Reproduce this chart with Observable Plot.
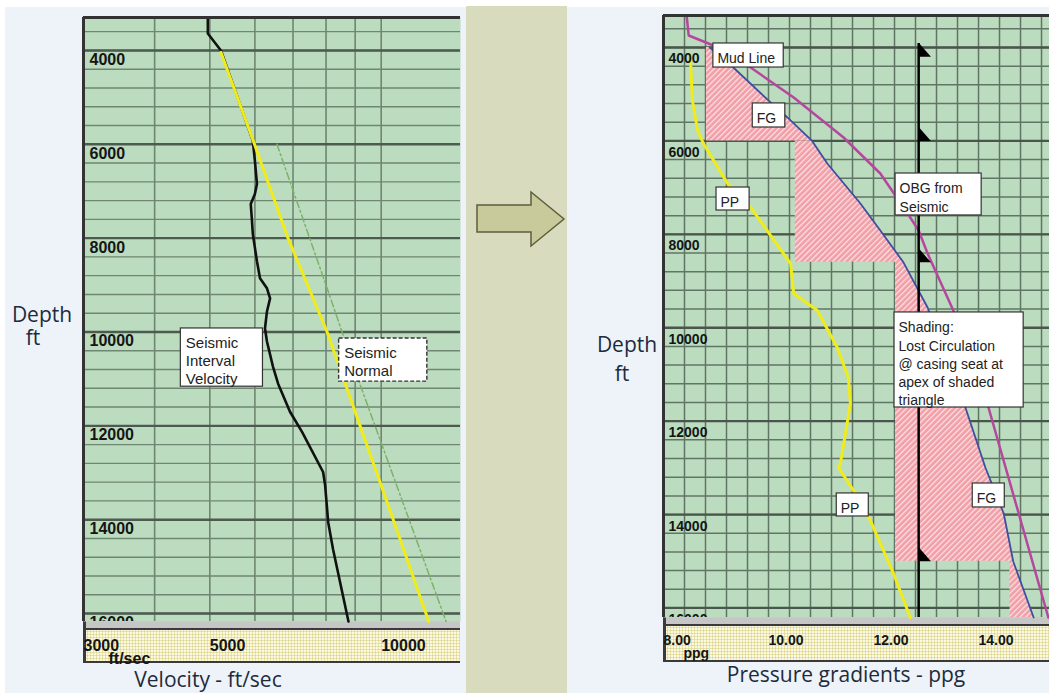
<!DOCTYPE html>
<html>
<head>
<meta charset="utf-8">
<script src="https://cdn.jsdelivr.net/npm/d3@7"></script>
<script src="https://cdn.jsdelivr.net/npm/@observablehq/plot@0.6"></script>
<style>
html, body { margin: 0; padding: 0; background: #ffffff; overflow: hidden; }
#root { position: relative; width: 1049px; height: 693px; font-family: "Liberation Sans", Arial, sans-serif; }
.abs { position: absolute; }
.panel { background: #eef2f9; }
.strip { background: #c5c6c5; border-left: 3px solid #3a3a3a; box-sizing: border-box; }
.band { background-color: #fbf9e3; background-image: radial-gradient(#ddd68e 0.9px, transparent 1.2px); background-size: 3px 3px;
        border-top: 2px solid #3a3a3a; border-bottom: 2px solid #3a3a3a; border-left: 3px solid #3a3a3a; box-sizing: border-box; }
.cap { font-family: "Open Sans", sans-serif; font-size: 21px; color: #1d2b3c; white-space: nowrap; text-align: center; }
</style>
</head>
<body>
<svg width="0" height="0" style="position:absolute">
  <defs>
    <pattern id="hatch" patternUnits="userSpaceOnUse" width="4" height="4" patternTransform="rotate(45)">
      <rect width="4" height="4" fill="#f29ea6"></rect>
      <rect width="1.3" height="4" fill="#fbe2e4"></rect>
    </pattern>
  </defs>
</svg>
<div id="root">
  <div class="abs panel" style="left:5px;top:7px;width:461px;height:686px"></div>
  <div class="abs" style="left:466px;top:6px;width:101px;height:687px;background:#d9dbbe"></div>
  <div class="abs panel" style="left:567px;top:7px;width:482px;height:686px"></div>

  <div class="abs strip" style="left:83px;top:621px;width:377px;height:8px"></div>
  <div class="abs band" style="left:83px;top:628px;width:377px;height:35px"></div>
  <div class="abs strip" style="left:663px;top:617px;width:386px;height:8px"></div>
  <div class="abs band" style="left:663px;top:624px;width:386px;height:38px"></div>

  <svg class="abs" style="left:466px;top:0" width="101" height="693">
    <polygon points="11,205 65,205 65,192 98,219 65,246 65,232 11,232" fill="#c8ca9c" stroke="#5c5e3c" stroke-width="1.5"></polygon>
  </svg>

  <div class="abs cap" style="left:0px;top:303px;width:84px;line-height:23px">Depth<br><span style="position:relative;left:-9px">ft</span></div>
  <div class="abs cap" style="left:108px;top:665px;width:200px;line-height:28px">Velocity - ft/sec</div>
  <div class="abs cap" style="left:577px;top:330px;width:100px;line-height:29px">Depth<br><span style="position:relative;left:-5px">ft</span></div>
  <div class="abs cap" style="left:696px;top:660px;width:300px;line-height:28px">Pressure gradients - ppg</div>

  <div id="leftChart" class="abs" style="left:0;top:0"></div>
  <div id="rightChart" class="abs" style="left:567px;top:0"></div>
</div>
<script>
// ---------- Left chart: velocity vs depth ----------
const velDomain = [3000, 13780];
const depthDomainL = [3298, 16170];
const velTicks = [3000, 5000, 10000];
const velGrid = [4000, 5000, 6000, 7000, 8000, 9000, 10000];
const depthMajor = [4000, 6000, 8000, 10000, 12000, 14000, 16000];
const depthMinor = d3.range(3600, 16200, 400);

// Seismic interval velocity (black)
const intervalDepth = [3298, 3640, 4000, 5925, 6353, 6845, 7059, 7273, 7572, 7914, 8492, 8856, 9070, 9284, 9562, 9925, 10203, 10738, 11102, 11700, 12128, 12984, 13262, 14053, 14631, 16170];
const intervalVel   = [4960, 4960, 5230, 5950, 6000, 6050, 6000, 5900, 5925, 5950, 6050, 6125, 6300, 6380, 6300, 6250, 6300, 6455, 6590, 6915, 7260, 7905, 7970, 8070, 8230, 8760];

// Seismic normal trend (yellow)
const normalDepth = [4040, 6000, 8000, 10000, 12000, 14000, 16170];
const normalVel   = [5230, 5990, 6860, 8035, 9180, 10500, 12120];

// Dashed green trend
const trendDepth = [6000, 9134, 11120, 16170];
const trendVel   = [6560, 8070, 9180, 13000];

const leftNotes = [
  {text: "Seismic\nInterval\nVelocity", x1: 4447, x2: 6199, y1: 9925, y2: 11166, dashed: false},
  {text: "Seismic\nNormal", x1: 8435, x2: 12050, y1: 10139, y2: 11059, dashed: true}
];

// ---------- Right chart: pressure gradients vs depth ----------
const ppgDomain = [8, 15.352];
const depthDomainR = [3315, 16204];
const ppgTicks = [8, 10, 12, 14];
const ppgGrid = d3.range(8.4, 15.35, 0.4);

const ppDepth = [4171, 5135, 5777, 6056, 6912, 7425, 8625, 9267, 9631, 10423, 11065, 11621, 12906, 12992, 13485, 14127, 15261, 16204];
const ppValue = [8.51, 8.55, 8.65, 8.76, 9.22, 9.66, 10.42, 10.48, 10.93, 11.31, 11.52, 11.56, 11.37, 11.33, 11.62, 11.94, 12.38, 12.70];

const fgDepth = [4000, 4429, 5177, 5498, 6000, 6483, 7340, 7918, 8600, 9567, 11708, 12992, 13977, 15000, 16204];
const fgValue = [8.88, 9.33, 10.04, 10.36, 10.83, 11.12, 11.75, 12.13, 12.57, 13.03, 13.75, 14.13, 14.48, 14.66, 15.05];

const obgDepth = [3315, 3743, 3957, 4429, 5071, 5927, 6698, 7554, 7918, 8410, 9631, 11708, 16204];
const obgValue = [8.44, 8.48, 8.95, 9.66, 10.48, 11.43, 12.13, 12.65, 12.86, 13.03, 13.52, 14.19, 15.33];

const shadeTop    = [4000, 6000, 8600, 15000];
const shadeBottom = [6000, 8600, 15000, 16204];
const shadeLeft   = [8.82, 10.51, 12.42, 14.6];

const casingPpg = 12.86;
const casingTop = 3914;
const casingDepths = [4200, 6000, 8600, 15000];

const rightNotes = [
  {text: "Mud Line", x1: 8.95, x2: 10.29, y1: 3914, y2: 4429},
  {text: "FG", x1: 9.70, x2: 10.32, y1: 5198, y2: 5713},
  {text: "PP", x1: 9.01, x2: 9.64, y1: 6998, y2: 7490},
  {text: "OBG from\nSeismic", x1: 12.42, x2: 14.06, y1: 6698, y2: 7596},
  {text: "Shading:\nLost Circulation\n@ casing seat at\napex of shaded\ntriangle", x1: 12.40, x2: 14.86, y1: 9673, y2: 11708},
  {text: "PP", x1: 11.30, x2: 11.91, y1: 13548, y2: 14041},
  {text: "FG", x1: 13.89, x2: 14.50, y1: 13335, y2: 13848}
];

// ---------- tables ----------
const intervalRows = intervalDepth.map((d, i) => ({depth: d, vel: intervalVel[i]}));
const normalRows = normalDepth.map((d, i) => ({depth: d, vel: normalVel[i]}));
const trendRows = trendDepth.map((d, i) => ({depth: d, vel: trendVel[i]}));
const ppRows = ppDepth.map((d, i) => ({depth: d, ppg: ppValue[i]}));
const fgRows = fgDepth.map((d, i) => ({depth: d, ppg: fgValue[i]}));
const obgRows = obgDepth.map((d, i) => ({depth: d, ppg: obgValue[i]}));
const shadeRows = shadeTop.flatMap((top, s) =>
  fgRows.filter(r => r.depth >= top && r.depth <= shadeBottom[s])
        .map(r => ({seg: s, depth: r.depth, x1: shadeLeft[s], x2: r.ppg})));
const casingRows = casingDepths.map(d => ({depth: d, ppg: casingPpg}));

const flagSymbol = {
  draw(ctx, size) {
    const s = Math.sqrt(size / Math.PI);
    ctx.moveTo(0, -2 * s);
    ctx.lineTo(0, 0);
    ctx.lineTo(1.75 * s, 0);
    ctx.closePath();
  }
};

const baseStyle = {background: "transparent", fontFamily: "'Liberation Sans', Arial, sans-serif", fontWeight: "bold", color: "#151515", overflow: "visible"};

const leftPlot = Plot.plot({
  width: 466, height: 693,
  marginLeft: 83, marginRight: 6, marginTop: 17, marginBottom: 72,
  style: {...baseStyle, fontSize: "16px"},
  x: {type: "log", domain: velDomain},
  y: {domain: depthDomainL, reverse: true, axis: null},
  marks: [
    Plot.frame({fill: "#bcdcbf", stroke: null}),
    Plot.ruleY(depthMinor, {stroke: "#6f8672", strokeWidth: 1.4}),
    Plot.ruleX(velGrid, {stroke: "#6f8672", strokeWidth: 1.6}),
    Plot.ruleY(depthMajor, {stroke: "#4c5a4f", strokeWidth: 2.4}),
    Plot.line(trendRows, {x: "vel", y: "depth", stroke: "#7db26a", strokeWidth: 1.5, strokeDasharray: "7,3,2,3"}),
    Plot.line(intervalRows, {x: "vel", y: "depth", stroke: "#111111", strokeWidth: 2.6}),
    Plot.line(normalRows, {x: "vel", y: "depth", stroke: "#f0ec1c", strokeWidth: 3}),
    Plot.text(depthMajor, {x: velDomain[0], y: d => d, text: d => String(d), textAnchor: "start", lineAnchor: "top", dx: 6, dy: 3, clip: true, fill: "#151515"}),
    Plot.rect(leftNotes, {filter: d => !d.dashed, x1: "x1", x2: "x2", y1: "y1", y2: "y2", fill: "#ffffff", stroke: "#333333", strokeWidth: 1.2}),
    Plot.rect(leftNotes, {filter: d => d.dashed, x1: "x1", x2: "x2", y1: "y1", y2: "y2", fill: "#ffffff", stroke: "#333333", strokeWidth: 1.4, strokeDasharray: "4,2"}),
    Plot.text(leftNotes, {x: "x1", y: "y1", text: "text", textAnchor: "start", lineAnchor: "top", dx: 5, dy: 7, lineHeight: 1.2, fontSize: 15, fontWeight: "normal", fill: "#222222"}),
    Plot.ruleX([velDomain[0]], {stroke: "#333333", strokeWidth: 3}),
    Plot.ruleY([depthDomainL[0]], {stroke: "#333333", strokeWidth: 3}),
    Plot.axisX({ticks: velTicks, tickFormat: d => String(d), tickSize: 0, tickPadding: 18, textAnchor: "start", label: null}),
    Plot.text(["ft/sec"], {frameAnchor: "bottom-left", text: d => d, dx: 25, dy: 31, lineAnchor: "top", textAnchor: "start", fill: "#151515"})
  ]
});
document.getElementById("leftChart").appendChild(leftPlot);

const rightPlot = Plot.plot({
  width: 482, height: 693,
  marginLeft: 96, marginRight: 0, marginTop: 15, marginBottom: 76,
  style: {...baseStyle, fontSize: "14px"},
  x: {domain: ppgDomain},
  y: {domain: depthDomainR, reverse: true, axis: null},
  marks: [
    Plot.frame({fill: "#bcdcbf", stroke: null}),
    Plot.ruleY(depthMinor, {stroke: "#607665", strokeWidth: 1.5}),
    Plot.ruleX(ppgGrid, {stroke: "#607665", strokeWidth: 1.5}),
    Plot.ruleY(depthMajor, {stroke: "#4a564c", strokeWidth: 2.3}),
    Plot.areaX(shadeRows, {y: "depth", x1: "x1", x2: "x2", z: "seg", fill: "url(#hatch)"}),
    Plot.line(ppRows, {x: "ppg", y: "depth", stroke: "#f0ec1c", strokeWidth: 3}),
    Plot.line(fgRows, {x: "ppg", y: "depth", stroke: "#3f4fa0", strokeWidth: 1.8}),
    Plot.line(obgRows, {x: "ppg", y: "depth", stroke: "#b5479f", strokeWidth: 2.5}),
    Plot.ruleX([casingPpg], {y1: casingTop, y2: depthDomainR[1], stroke: "#000000", strokeWidth: 2.5}),
    Plot.dot(casingRows, {x: "ppg", y: "depth", symbol: flagSymbol, r: 7, fill: "#000000", stroke: null}),
    Plot.text(depthMajor, {x: ppgDomain[0], y: d => d, text: d => String(d), textAnchor: "start", lineAnchor: "top", dx: 5, dy: 6, clip: true, fill: "#151515"}),
    Plot.rect(rightNotes, {x1: "x1", x2: "x2", y1: "y1", y2: "y2", fill: "#ffffff", stroke: "#333333", strokeWidth: 1.2}),
    Plot.text(rightNotes, {x: "x1", y: "y1", text: "text", textAnchor: "start", lineAnchor: "top", dx: 4, dy: 7, lineHeight: 1.3, fontSize: 14, fontWeight: "normal", fill: "#222222"}),
    Plot.ruleX([ppgDomain[0]], {stroke: "#333333", strokeWidth: 3}),
    Plot.ruleY([depthDomainR[0]], {stroke: "#333333", strokeWidth: 3}),
    Plot.axisX({ticks: ppgTicks, tickFormat: d => d.toFixed(2), tickSize: 0, tickPadding: 18, textAnchor: "start", label: null}),
    Plot.text(["ppg"], {frameAnchor: "bottom-left", text: d => d, dx: 20, dy: 31, lineAnchor: "top", textAnchor: "start", fill: "#151515"})
  ]
});
document.getElementById("rightChart").appendChild(rightPlot);
</script>
</body>
</html>
